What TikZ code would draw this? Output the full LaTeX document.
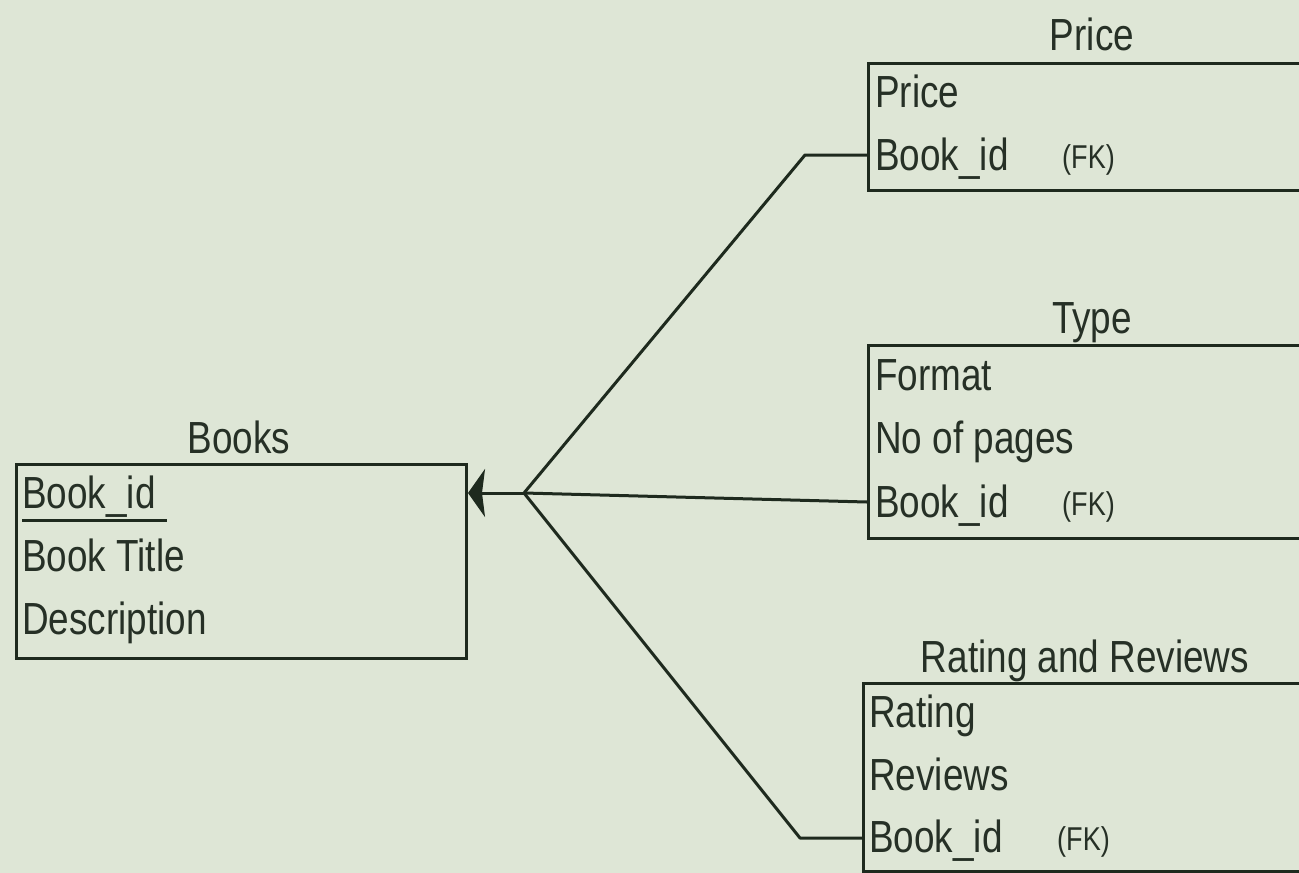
\documentclass[tikz,border=0pt]{standalone}
\usepackage{fontspec}
\setmainfont[FakeStretch=0.82]{Liberation Sans}
\usetikzlibrary{arrows.meta}
\definecolor{bgc}{RGB}{222,230,214}
\definecolor{linec}{RGB}{30,42,30}
\definecolor{textc}{RGB}{38,48,38}
\tikzset{
  erbox/.style={draw=linec, line width=3pt, anchor=north west, inner sep=0pt, minimum width=#1},
  erbox/.default=460pt,
  fld/.style={anchor=base west, inner sep=0pt, text=textc, font=\fontsize{45}{54}\selectfont},
  ttl/.style={anchor=base, inner sep=0pt, text=textc, font=\fontsize{45}{54}\selectfont},
  fk/.style={anchor=base west, inner sep=0pt, text=textc, font=\fontsize{33}{40}\selectfont},
  conn/.style={draw=linec, line width=3pt, line join=round}
}
\begin{document}
\begin{tikzpicture}[x=1pt,y=-1pt]
\fill[bgc] (0,0) rectangle (1299,873);
\useasboundingbox (0,0) rectangle (1299,873);
\clip (0,0) rectangle (1299,873);

% Books
\node[ttl] (booksT) at (239,453) {Books};
\node[erbox=450pt, minimum height=194pt] (books) at (15,463) {};
\node[fld] (bid) at (22,508) {Book\_id};
\node[fld] (btitle) at (22,571) {Book Title};
\node[fld] (bdesc) at (22,634) {Description};
\draw[linec, line width=2.5pt] ([yshift=-3.5pt]bid.south west) -- ++(145,0);

% Price
\node[ttl] (priceT) at (1092,50) {Price};
\node[erbox, minimum height=127pt] (price) at (867,62) {};
\node[fld] (pprice) at (875,107) {Price};
\node[fld] (pbid) at (875,170) {Book\_id};
\node[fk] (pfk) at (1062,168) {(FK)};

% Type
\node[ttl] (typeT) at (1092,333) {Type};
\node[erbox, minimum height=193pt] (type) at (867,344) {};
\node[fld] (tfmt) at (875,390) {Format};
\node[fld] (tpages) at (875,453) {No of pages};
\node[fld] (tbid) at (875,517) {Book\_id};
\node[fk] (tfk) at (1062,515) {(FK)};

% Rating and Reviews
\node[ttl] (rateT) at (1085,672) {Rating and Reviews};
\node[erbox, minimum height=188pt] (rate) at (862,682) {};
\node[fld] (rrating) at (869,727) {Rating};
\node[fld] (rreviews) at (869,790) {Reviews};
\node[fld] (rbid) at (869,852) {Book\_id};
\node[fk] (rfk) at (1057,850) {(FK)};

% connectors
\coordinate (J) at (524,493);
\coordinate (pBend) at (805,155);
\coordinate (pEnd) at (867,155);
\coordinate (tEnd) at (867,502);
\coordinate (rBend) at (800,838);
\coordinate (rEnd) at (862,838);

\draw[conn, -{Stealth[length=17pt,width=48pt,inset=3pt]}] (J) -- (J -| books.east);
\draw[conn] (J) -- (pBend) -- (pEnd -| price.west);
\draw[conn] (J) -- (tEnd -| type.west);
\draw[conn] (J) -- (rBend) -- (rEnd -| rate.west);
\end{tikzpicture}
\end{document}
